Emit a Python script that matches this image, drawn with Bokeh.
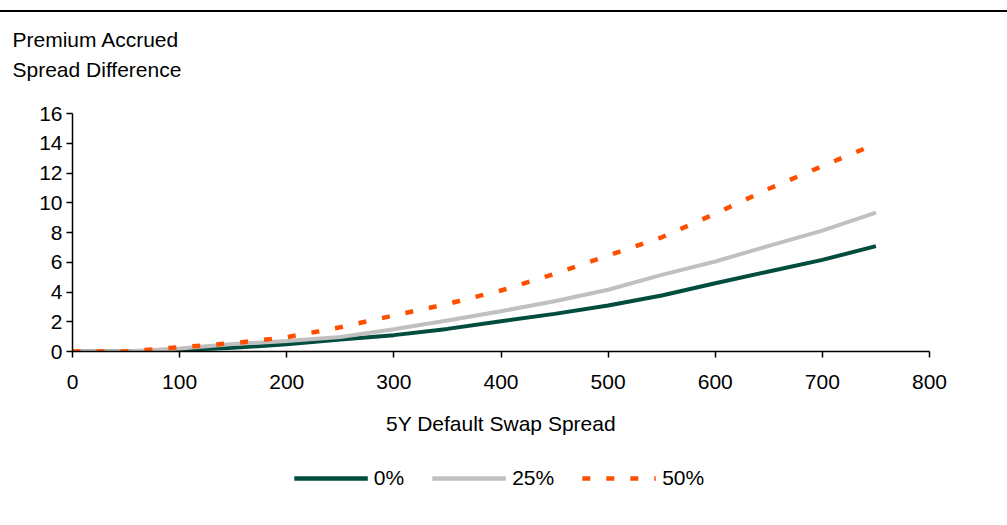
from bokeh.plotting import figure
from bokeh.models import (Range1d, FixedTicker, Legend, LegendItem, Title, Div,
                          ColumnDataSource)
from bokeh.layouts import column
from bokeh.embed import file_html
from bokeh.resources import INLINE

# ---- data ----
spread = [0, 50, 100, 150, 200, 250, 300, 350, 400, 450, 500, 550, 600, 650, 700, 750]
pct0 = [0, 0, 0.1, 0.25, 0.48, 0.8, 1.1, 1.52, 2.04, 2.53, 3.09, 3.76, 4.59, 5.38, 6.16, 7.08]
pct25 = [0, 0, 0.2, 0.5, 0.7, 0.98, 1.5, 2.08, 2.71, 3.38, 4.15, 5.15, 6.05, 7.1, 8.13, 9.34]
pct50 = [0, 0, 0.29, 0.56, 0.96, 1.63, 2.42, 3.2, 4.1, 5.22, 6.45, 7.68, 9.26, 10.94, 12.46, 13.96]
series_names = ["0%", "25%", "50%"]
x_ticks = [0, 100, 200, 300, 400, 500, 600, 700, 800]
y_ticks = [0, 2, 4, 6, 8, 10, 12, 14, 16]
title_lines = ["Premium Accrued", "Spread Difference"]
x_label = "5Y Default Swap Spread"

FONT = "Liberation Sans"
FS = "21px"
COLORS = ["#004D3D", "#C0C0C0", "#FF5000"]
WIDTHS = [4, 4, 4.5]
DASHES = ["solid", "solid", "8 16"]

src = ColumnDataSource(dict(x=spread, a=pct0, b=pct25, c=pct50))

# frame: 857 px for 0..800, 14.875 px per y unit; extra blank headroom above 16
FRAME_H = 268
p = figure(frame_width=857, frame_height=FRAME_H,
           min_border_left=72, min_border_top=0, min_border_right=70, min_border_bottom=94,
           x_range=Range1d(0, 800), y_range=Range1d(0, FRAME_H / 14.875),
           output_backend="svg", toolbar_location=None, tools="")
p.outline_line_color = None
p.xgrid.visible = False
p.ygrid.visible = False
p.background_fill_color = "white"
p.border_fill_color = "white"

for ax, ticks in ((p.xaxis, x_ticks), (p.yaxis, y_ticks)):
    ax.ticker = FixedTicker(ticks=ticks)
    ax.minor_tick_line_color = None
    ax.major_tick_in = 0
    ax.major_tick_out = 6
    ax.axis_line_color = "black"
    ax.axis_line_width = 1.5
    ax.major_tick_line_color = "black"
    ax.major_tick_line_width = 1.5
    ax.major_label_text_font = FONT
    ax.major_label_text_font_size = FS
    ax.major_label_text_color = "black"

p.yaxis.bounds = (y_ticks[0], y_ticks[-1])
p.xaxis.major_label_standoff = 17
p.yaxis.major_label_standoff = 4
p.xaxis.axis_label = x_label
p.xaxis.axis_label_text_font = FONT
p.xaxis.axis_label_text_font_size = FS
p.xaxis.axis_label_text_font_style = "normal"
p.xaxis.axis_label_text_color = "black"
p.xaxis.axis_label_standoff = 20

for col, c, w, d in zip(["a", "b", "c"], COLORS, WIDTHS, DASHES):
    p.line("x", col, source=src, line_color=c, line_width=w, line_dash=d)

# closest to the frame is added first
for t in reversed(title_lines):
    p.add_layout(Title(text=t, align="left", offset=-60, text_font=FONT,
                       text_font_size=FS, text_font_style="normal", text_color="black",
                       standoff=5), "above")

# legend strip (legend-only renderers, no drawable data)
leg = figure(width=996, height=66, min_border=0, x_axis_type=None, y_axis_type=None,
             x_range=Range1d(0, 1), y_range=Range1d(0, 1),
             output_backend="svg", toolbar_location=None, tools="")
leg.outline_line_color = None
leg.xgrid.visible = False
leg.ygrid.visible = False
nodata = ColumnDataSource(dict(x=[float("nan")], y=[float("nan")]))
items = []
for name, c, d in zip(series_names, COLORS, DASHES):
    r = leg.line("x", "y", source=nodata, line_color=c, line_width=4.5, line_dash=d)
    items.append(LegendItem(label=name, renderers=[r]))
legend = Legend(items=items, orientation="horizontal", location="center",
                glyph_width=74, glyph_height=20, label_standoff=6, spacing=28,
                padding=0, margin=0, border_line_alpha=0, background_fill_alpha=0,
                label_text_font=FONT, label_text_font_size=FS, label_text_color="black")
leg.add_layout(legend)

rule = Div(text="", width=1007, height=2, margin=(10, 0, 11, 0),
           styles={"background-color": "black"})

layout = column(rule, p, leg, spacing=0)
open("out.html", "w").write(file_html(layout, INLINE))
